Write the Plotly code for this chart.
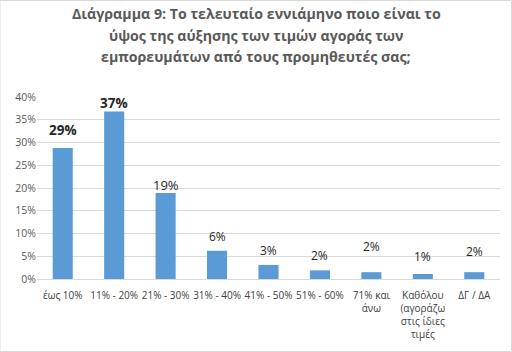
import plotly.graph_objects as go

categories = ["έως 10%", "11% - 20%", "21% - 30%", "31% - 40%", "41% - 50%",
              "51% - 60%", "71% και<br>άνω", "Καθόλου<br>(αγοράζω<br>στις ίδιες<br>τιμές", "ΔΓ / ΔΑ"]
values = [0.288, 0.368, 0.189, 0.062, 0.031, 0.019, 0.015, 0.011, 0.015]
value_labels = ["29%", "37%", "19%", "6%", "3%", "2%", "2%", "1%", "2%"]
tick_vals = [0, 0.05, 0.10, 0.15, 0.20, 0.25, 0.30, 0.35, 0.40]
tick_text = ["0%", "5%", "10%", "15%", "20%", "25%", "30%", "35%", "40%"]
title_lines = ["Διάγραμμα 9: Το τελευταίο εννιάμηνο ποιο είναι το",
               "ύψος της αύξησης των τιμών αγοράς των",
               "εμπορευμάτων από τους προμηθευτές σας;"]

# style: label offsets (px above bar top) and font styling
label_shift = [18, 9, 8, 14, 14, 15, 26, 18, 21]
label_bold = [True, True, False, False, False, False, False, False, False]
label_size = [13.5, 13.5, 13, 12, 12, 12, 12, 12, 12]
title_y_px = [13, 35, 57]

PLOT_TOP, PLOT_BOTTOM = 97, 279
PH = PLOT_BOTTOM - PLOT_TOP

fig = go.Figure(go.Bar(x=categories, y=values, marker_color="#5B9BD5",
                       marker_line_width=0, width=0.39))

for c, v, t, s, b, fs in zip(categories, values, value_labels, label_shift, label_bold, label_size):
    fig.add_annotation(x=c, y=v, text=f"<b>{t}</b>" if b else t, showarrow=False,
                       yshift=s, font=dict(size=fs, color="#262626", family="Open Sans"))

for line, py in zip(title_lines, title_y_px):
    fig.add_annotation(xref="paper", yref="paper", x=(256 - 37) / 463, y=(PLOT_BOTTOM - py) / PH,
                       text=f"<b>{line}</b>", showarrow=False, xanchor="center", yanchor="middle",
                       font=dict(size=14.2, color="#595959", family="Open Sans"))

fig.update_layout(
    width=512, height=352,
    margin=dict(l=37, r=12, t=PLOT_TOP, b=352 - PLOT_BOTTOM),
    paper_bgcolor="white", plot_bgcolor="white",
    font=dict(family="Open Sans", color="#404040"),
    showlegend=False,
    bargap=0.6,
)
fig.update_xaxes(tickfont=dict(size=10, color="#404040"), showline=True, linecolor="#D9D9D9",
                 ticks="", showgrid=False, tickangle=0, automargin=False, ticklabelstandoff=7)
fig.update_yaxes(range=[0, 0.4], tickvals=tick_vals, ticktext=tick_text, showgrid=True,
                 gridcolor="#D9D9D9", zeroline=False, tickfont=dict(size=10.5, color="#595959"),
                 ticks="", showline=False, automargin=False)
fig.add_shape(type="rect", xref="paper", yref="paper", x0=-37/463, x1=1+11.5/463,
              y0=-72.5/182, y1=1+96.5/182, line=dict(color="#D9D9D9", width=1))

fig.write_html("out.html")
